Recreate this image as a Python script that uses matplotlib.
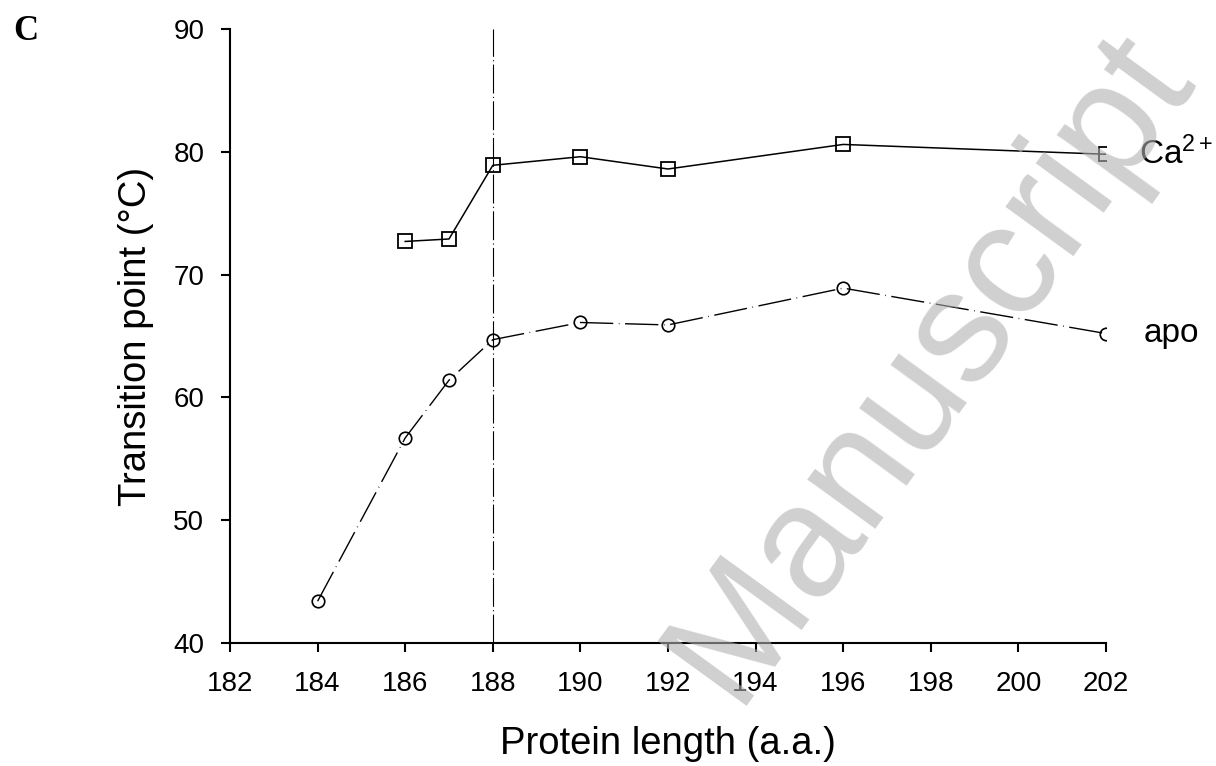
import matplotlib
matplotlib.use("Agg")
import matplotlib.pyplot as plt

ca_x = [186, 187, 188, 190, 192, 196, 202]
ca_y = [72.7, 72.9, 78.9, 79.6, 78.6, 80.6, 79.8]
apo_x = [184, 186, 187, 188, 190, 192, 196, 202]
apo_y = [43.4, 56.7, 61.4, 64.7, 66.1, 65.9, 68.9, 65.2]
xticks = list(range(182, 203, 2))
yticks = [40, 50, 60, 70, 80, 90]

plt.rcParams['font.family'] = ['Liberation Sans', 'DejaVu Sans']
plt.rcParams['mathtext.fontset'] = 'custom'
plt.rcParams['mathtext.rm'] = 'Liberation Sans'
plt.rcParams['mathtext.it'] = 'Liberation Sans:italic'
plt.rcParams['mathtext.bf'] = 'Liberation Sans:bold'

fig = plt.figure(figsize=(12.16, 7.66), dpi=100)
ax = fig.add_axes([230/1216, 1-643/766, (1106-230)/1216, (643-29)/766])

ax.axvline(188, color='black', lw=0.8, linestyle=(0, (26, 3, 1, 3)), zorder=1)
ax.plot(ca_x, ca_y, color='black', lw=1.1, marker='s', ms=10, mfc='none', mec='black', mew=1.3, zorder=3)
ax.plot(apo_x, apo_y, color='black', lw=1.0, linestyle=(0, (24, 4, 0.5, 4)), marker='o', ms=9,
        mfc='none', mec='black', mew=1.2, zorder=3)

ax.text(202.75, 79.8, r"Ca$^{\mathrm{2+}}$", fontsize=24, va='center', ha='left')
ax.text(202.85, 65.2, "apo", fontsize=24, va='center', ha='left')

ax.set_xlim(182, 202)
ax.set_ylim(40, 90)
ax.set_xticks(xticks)
ax.set_yticks(yticks)
ax.tick_params(direction='out', length=6.5, width=1.5, labelsize=20)
ax.tick_params(axis='x', pad=13.5)
ax.tick_params(axis='y', pad=12)
for s in ['top', 'right']:
    ax.spines[s].set_visible(False)
for s in ['left', 'bottom']:
    ax.spines[s].set_linewidth(1.5)
ax.set_xlabel("Protein length (a.a.)", fontsize=27.5, labelpad=21)
ax.set_ylabel("Transition point (°C)", fontsize=27.5, labelpad=14)

fig.text(13/1216, 1-32/766, "C", fontsize=25, fontweight='bold', family='Liberation Serif',
         va='center', ha='left')

fig.text(930/1216, 1-365/766, "Manuscript", rotation=54, fontsize=115, color='#b0b0b0', alpha=0.6,
         ha='center', va='center', zorder=10)

fig.savefig("out.png", dpi=100)
